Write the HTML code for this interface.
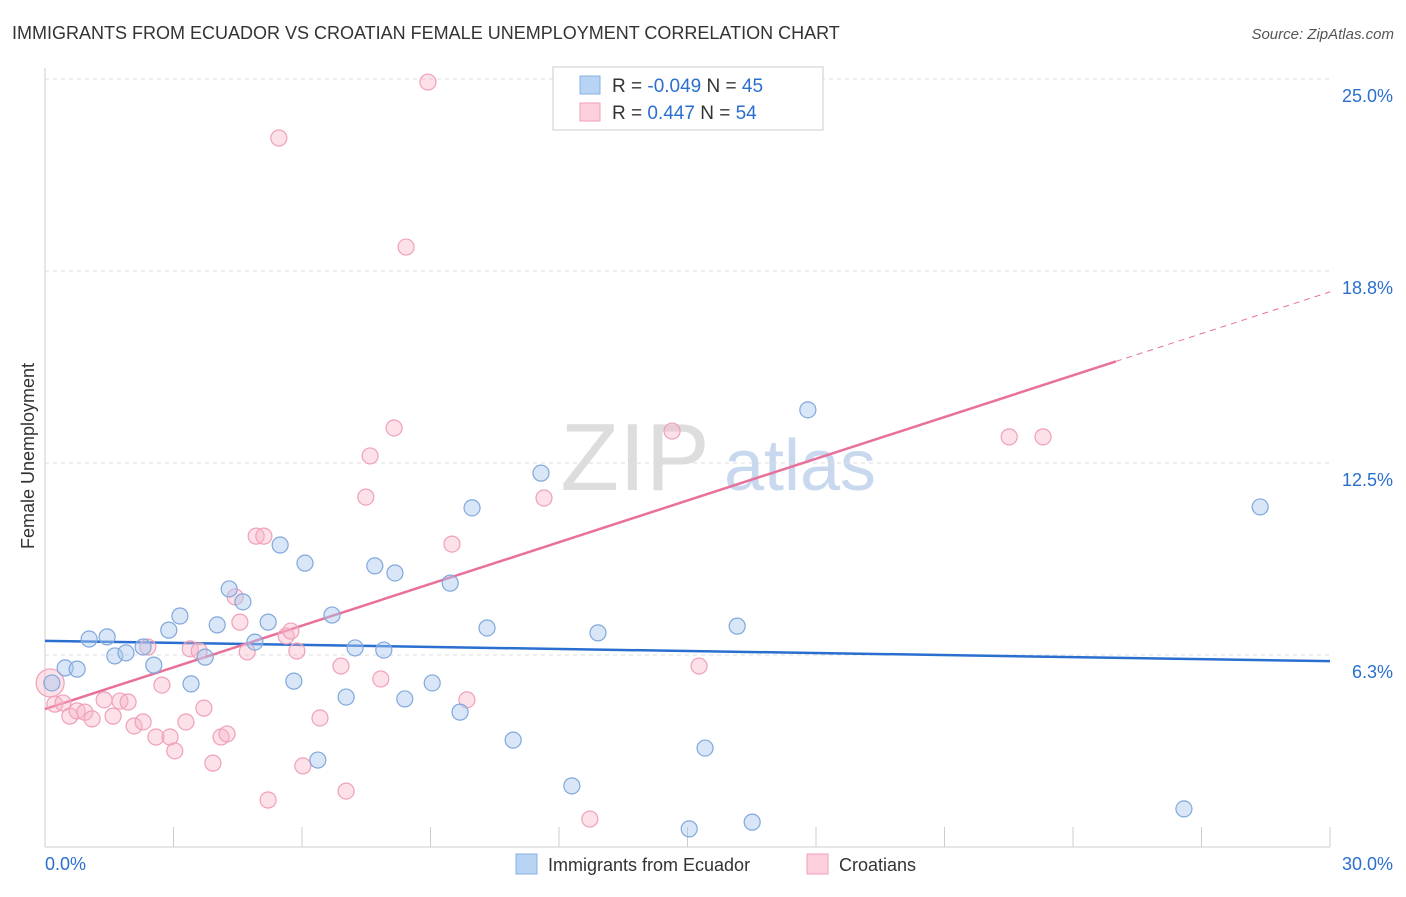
<!DOCTYPE html>
<html><head><meta charset="utf-8"><style>
body{margin:0;background:#fff;font-family:"Liberation Sans",sans-serif;}
svg text{font-family:"Liberation Sans",sans-serif;}
</style></head><body>
<svg width="1406" height="892" xmlns="http://www.w3.org/2000/svg">
<text x="12" y="39" font-size="18" fill="#333">IMMIGRANTS FROM ECUADOR VS CROATIAN FEMALE UNEMPLOYMENT CORRELATION CHART</text>
<text x="1394" y="39" font-size="15" fill="#555" font-style="italic" text-anchor="end">Source: ZipAtlas.com</text>
<g><text x="635" y="490" font-size="96" fill="#ddd" font-family="Liberation Serif,serif" text-anchor="middle">ZIP</text><text x="800" y="490" font-size="72" fill="#c8d8ee" text-anchor="middle">atlas</text></g>
<g id="grid"></g><g id="axes"></g><g id="trend"></g><g id="pts"></g>
<text transform="translate(34,456) rotate(-90)" font-size="18" fill="#333" text-anchor="middle">Female Unemployment</text>
<g>
<rect x="553" y="67" width="270" height="63" fill="#fff" stroke="#ccc"/>
<rect x="580" y="76" width="20" height="18" fill="#b8d4f5" stroke="#88b0e0"/>
<text x="612" y="92" font-size="19" fill="#333">R = <tspan fill="#2a6fd0">-0.049</tspan>   N = <tspan fill="#2a6fd0">45</tspan></text>
<rect x="580" y="103" width="20" height="18" fill="#fcd0dc" stroke="#f0a0b8"/>
<text x="612" y="119" font-size="19" fill="#333">R =   <tspan fill="#2a6fd0">0.447</tspan>   N = <tspan fill="#2a6fd0">54</tspan></text>
</g>
<g>
<rect x="516" y="854" width="21" height="20" fill="#b8d4f5" stroke="#88b0e0"/>
<text x="548" y="871" font-size="18" fill="#333">Immigrants from Ecuador</text>
<rect x="807" y="854" width="21" height="20" fill="#fcd0dc" stroke="#f0a0b8"/>
<text x="839" y="871" font-size="18" fill="#333">Croatians</text>
</g>
</svg>
<script>
const yTicks=[6.25,12.5,18.75,25];
const yTickLabels=["6.3%","12.5%","18.8%","25.0%"];
const xTickLabels=["0.0%","30.0%"];
const blueX=[0.47,0.75,1.03,1.45,1.63,1.89,2.29,2.54,2.89,3.15,3.41,3.74,4.02,4.30,4.62,4.90,5.21,5.49,5.81,6.07,6.37,6.70,7.03,7.24,7.70,7.91,8.17,8.40,9.04,9.46,9.69,9.97,10.32,10.93,11.58,12.30,12.91,15.04,15.41,16.16,16.51,17.81,26.59,28.37,0.16];
const blueY=[5.83,5.79,6.77,6.84,6.22,6.32,6.51,5.92,7.06,7.52,5.31,6.18,7.23,8.40,7.98,6.67,7.32,9.83,5.40,9.24,2.83,7.55,4.88,6.48,9.15,6.41,8.92,4.82,5.34,8.59,4.39,11.04,7.13,3.48,12.17,1.99,6.97,0.59,3.22,7.19,0.81,14.23,1.24,11.07,5.34];
const pinkX=[0.12,0.23,0.42,0.58,0.75,0.93,1.10,1.38,1.59,1.75,1.94,2.08,2.29,2.40,2.59,2.73,2.92,3.03,3.29,3.39,3.60,3.71,3.92,4.11,4.25,4.44,4.55,4.72,4.93,5.11,5.21,5.46,5.63,5.74,5.88,6.02,6.42,6.91,7.03,7.49,7.59,7.84,8.15,8.43,8.94,9.50,9.85,11.65,12.72,14.64,15.27,22.51,23.30];
const pinkY=[5.34,4.65,4.69,4.26,4.43,4.39,4.17,4.79,4.26,4.75,4.72,3.94,4.07,6.51,3.58,5.27,3.58,3.13,4.07,6.45,6.38,4.52,2.73,3.58,3.68,8.14,7.32,6.35,10.12,10.12,1.53,23.08,6.87,7.03,6.38,2.64,4.20,5.89,1.82,11.39,12.73,5.47,13.64,19.53,24.90,9.86,4.79,11.36,0.91,13.54,5.89,13.35,13.35];
const blueTrend=[6.71,6.05];
const pinkTrend=[4.49,18.07];
const pinkSolidEnd=25;
const NS="http://www.w3.org/2000/svg";
const X=v=>45+v*1285/30, Y=v=>847-v*30.72;
function mk(t,a,p){const e=document.createElementNS(NS,t);for(const k in a)e.setAttribute(k,a[k]);document.getElementById(p).appendChild(e);return e;}
yTicks.forEach((v,i)=>{
 const l=mk('line',{x1:45,x2:1330,y1:Y(v),y2:Y(v),stroke:'#ddd','stroke-dasharray':'4,4'},'grid');
 
 
 const t=mk('text',{x:1393,y:Y(v)+23,'font-size':18,fill:'#2a6fd0','text-anchor':'end'},'grid');t.textContent=yTickLabels[i];
 
 
});
{const l=mk('line',{x1:45,x2:45,y1:68,y2:847,stroke:'#ccc'},'axes');


const b=mk('line',{x1:45,x2:1330,y1:847,y2:847,stroke:'#ccc'},'axes');

}
for(let i=0;i<=10;i++){const t=mk('line',{x1:X(i*3),x2:X(i*3),y1:827,y2:847,stroke:'#ccc'},'axes');

}
[[0,'start',45],[30,'end',1393]].forEach((d,i)=>{const t=mk('text',{x:d[2],y:870,'font-size':18,fill:'#2a6fd0','text-anchor':d[1]},'axes');t.textContent=xTickLabels[i];

});
const pt=x=>pinkTrend[0]+(pinkTrend[1]-pinkTrend[0])*x/30;
let l1=mk('line',{x1:X(0),y1:Y(blueTrend[0]),x2:X(30),y2:Y(blueTrend[1]),stroke:'#2a6fd0','stroke-width':2.5},'trend');


let l2=mk('line',{x1:X(0),y1:Y(pt(0)),x2:X(pinkSolidEnd),y2:Y(pt(pinkSolidEnd)),stroke:'#e8709a','stroke-width':2.5},'trend');


let l3=mk('line',{x1:X(pinkSolidEnd),y1:Y(pt(pinkSolidEnd)),x2:X(30),y2:Y(pt(30)),stroke:'#e8709a','stroke-width':1,'stroke-dasharray':'6,5'},'trend');


pinkX.forEach((x,i)=>{const c=mk('circle',{cx:X(x),cy:Y(pinkY[i]),r:i==0?14:8,fill:'rgba(248,180,200,0.4)',stroke:'#f0a0b8','stroke-width':1.2},'pts');

});
blueX.forEach((x,i)=>{const c=mk('circle',{cx:X(x),cy:Y(blueY[i]),r:8,fill:'rgba(170,200,240,0.45)',stroke:'#80a8dc','stroke-width':1.2},'pts');

});
</script>
</body></html>
